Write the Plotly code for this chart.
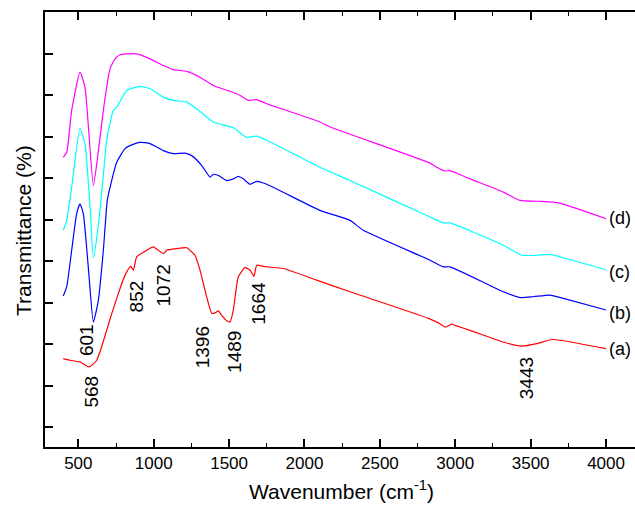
import plotly.graph_objects as go

# ---- data (wavenumber cm^-1, transmittance in arbitrary offset units) ----
a_x = [400, 445, 511, 573, 622, 688, 722, 755, 788, 821, 848, 865, 887, 954, 997, 1064, 1086, 1153, 1219, 1252, 1274,
       1307, 1340, 1385, 1407, 1429, 1451, 1484, 1506, 1528, 1561, 1606, 1639, 1665, 1683, 1727, 1860, 2081,
       2302, 2822, 2899, 2932, 2977, 2999, 3098, 3317, 3441, 3541, 3640, 3717, 4000]
a_y = [16.5, 16.1, 15.7, 14.5, 16.1, 23.3, 27.4, 31.0, 34.6, 37.4, 38.7, 37.8, 41.0, 42.6, 43.4, 41.8, 42.6, 43.0, 43.2, 42.2, 41.4,
       37.8, 33.0, 27.4, 27.5, 28.0, 26.9, 25.6, 25.3, 28.2, 36.2, 38.4, 37.8, 36.3, 39.0, 38.7, 38.2, 35.4,
       32.6, 26.2, 24.9, 24.1, 24.8, 24.5, 23.3, 20.5, 19.5, 20.1, 21.1, 20.8, 18.9]

b_x = [400, 423, 456, 489, 511, 533, 566, 600, 633, 666, 692, 710, 755, 810, 843, 909, 976, 1064, 1130, 1208, 1252,
       1319, 1374, 1395, 1429, 1484, 1528, 1561, 1594, 1639, 1683, 1750, 2103, 2302, 2390, 2833, 2921, 2965,
       3319, 3430, 3518, 3629, 3717, 4000]
b_y = [31.6, 33.8, 42.6, 51.4, 53.8, 51.4, 38.6, 25.3, 30.6, 42.6, 54.6, 57.7, 63.8, 67.1, 67.8, 68.6, 68.3, 66.6, 65.9, 66.0, 65.4,
       63.0, 60.2, 60.9, 60.6, 59.4, 59.8, 60.4, 59.8, 58.5, 59.2, 58.5, 52.2, 49.8, 47.4, 40.2, 38.6, 38.6,
       32.6, 31.2, 31.4, 31.8, 31.0, 28.2]

c_x = [400, 423, 456, 511, 544, 578, 600, 633, 666, 688, 732, 755, 821, 909, 976, 1064, 1130, 1219, 1285, 1395,
       1528, 1617, 1683, 1750, 2103, 2302, 2833, 2921, 2965, 3319, 3441, 3541, 3629, 3717, 4000]
c_y = [47.4, 49.8, 57.8, 71.9, 68.3, 53.0, 40.8, 48.6, 60.6, 69.1, 76.3, 77.1, 81.1, 82.1, 81.5, 79.5, 78.7, 78.3, 76.7, 73.5,
       72.1, 69.8, 70.1, 69.1, 62.6, 59.4, 50.6, 49.2, 49.2, 43.8, 41.4, 41.4, 41.6, 40.8, 37.9]

d_x = [400, 423, 456, 511, 544, 600, 633, 666, 688, 710, 743, 777, 821, 887, 976, 1064, 1130, 1219, 1307, 1395, 1506, 1573, 1628,
       1683, 1750, 2103, 2170, 2833, 2877, 2932, 2965, 3098, 3319, 3430, 3541, 3651, 3717, 4000]
d_y = [65.0, 66.2, 76.3, 85.5, 81.9, 58.2, 66.6, 76.3, 81.9, 86.3, 88.7, 89.7, 89.9, 89.9, 88.7, 87.1, 86.1, 85.7, 84.3, 82.3, 80.9, 79.9, 78.7,
       78.9, 77.9, 73.5, 72.3, 63.6, 62.6, 61.7, 61.8, 59.8, 56.6, 54.6, 54.4, 54.2, 53.7, 50.2]

series_names = ["(a)", "(b)", "(c)", "(d)"]
peak_labels = ["568", "601", "852", "1072", "1396", "1489", "1664", "3443"]
x_ticks = [500, 1000, 1500, 2000, 2500, 3000, 3500, 4000]

# ---- placement / style ----
colors = ["#FF0000", "#0000FF", "#00FFFF", "#FF00FF"]
series = [(a_x, a_y), (b_x, b_y), (c_x, c_y), (d_x, d_y)]
name_pos = [18.8, 27.4, 37.3, 50.3]
peak_pos = [(589, 8.5), (556, 20.9), (887, 31.4), (1064, 34.2), (1329, 19.3), (1539, 18.1), (1694, 29.8), (3474, 11.7)]
FONT = "Liberation Sans, Arial, sans-serif"
PW, PH = 590, 435  # plot area size in px

fig = go.Figure()
for (xs, ys), col, nm in zip(series, colors, series_names):
    fig.add_trace(go.Scatter(x=xs, y=ys, mode="lines", name=nm,
                             line=dict(color=col, width=1.2, shape="spline", smoothing=0.5),
                             showlegend=False))

annotations = []
for nm, yy in zip(series_names, name_pos):
    annotations.append(dict(x=4015, y=yy, text=nm, showarrow=False, xanchor="left", yanchor="middle",
                            borderpad=0, font=dict(size=18, color="black", family=FONT)))
for lbl, (px, py) in zip(peak_labels, peak_pos):
    annotations.append(dict(x=px, y=py, text=lbl, showarrow=False, textangle=-90,
                            xanchor="center", yanchor="middle",
                            font=dict(size=19, color="black", family=FONT)))
annotations.append(dict(xref="paper", yref="paper", x=-22 / PW, y=(447 - 231) / PH,
                        text="Transmittance (%)", showarrow=False, textangle=-90,
                        xanchor="center", yanchor="middle", font=dict(size=21, color="black", family=FONT)))
annotations.append(dict(xref="paper", yref="paper", x=(341 - 45) / PW, y=-(490 - 447) / PH,
                        text="Wavenumber (cm<sup>-1</sup>)", showarrow=False,
                        xanchor="center", yanchor="middle", font=dict(size=21, color="black", family=FONT)))

fig.update_layout(
    width=635, height=511,
    margin=dict(l=45, r=0, t=12, b=64),
    paper_bgcolor="white", plot_bgcolor="white",
    font=dict(family=FONT, color="black"),
    annotations=annotations,
    xaxis=dict(range=[279, 4192], tickvals=x_ticks, ticktext=[str(v) for v in x_ticks],
               ticks="inside", ticklen=8, tickwidth=1.5, tickcolor="black",
               minor=dict(dtick=250, tick0=0, ticks="inside", ticklen=4, tickwidth=1.2, tickcolor="black"),
               showline=True, linecolor="black", linewidth=1.5, mirror="ticks",
               showgrid=False, zeroline=False, tickfont=dict(size=17, family=FONT)),
    yaxis=dict(range=[-4.8, 100], tick0=0, dtick=10, showticklabels=False,
               ticks="inside", ticklen=8, tickwidth=1.5, tickcolor="black",
               showline=True, linecolor="black", linewidth=1.5, mirror=False,
               showgrid=False, zeroline=False),
)

# remove the page's default body margin so the 635x511 figure fills the window exactly
fig.write_html("out.html", config={"displayModeBar": False},
               post_script="document.body.style.margin='0';document.body.style.overflow='hidden';")
